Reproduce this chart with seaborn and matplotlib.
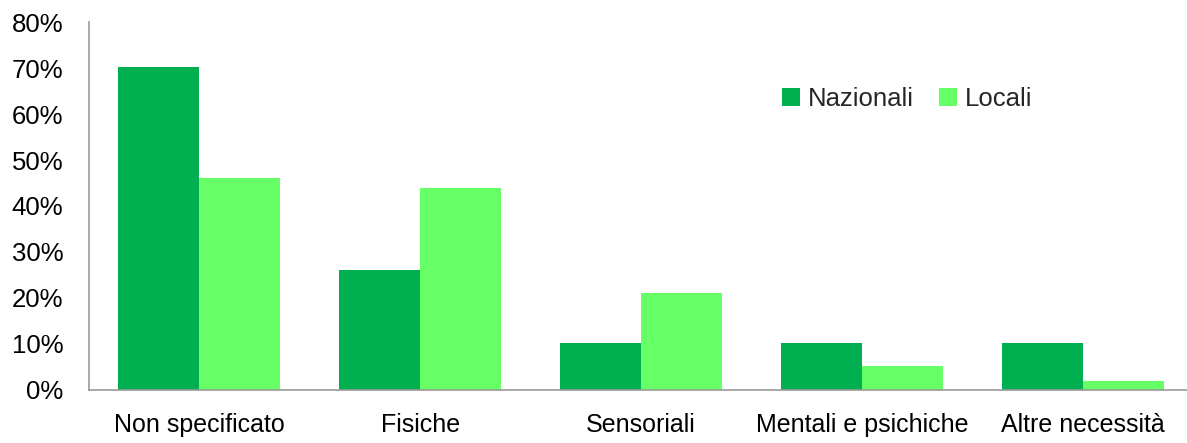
import matplotlib
matplotlib.use("Agg")
import matplotlib.pyplot as plt
from matplotlib.ticker import FixedLocator, PercentFormatter
from matplotlib.patches import Patch
import seaborn as sns
import pandas as pd

categorie = ["Non specificato", "Fisiche", "Sensoriali", "Mentali e psichiche", "Altre necessità"]
nazionali = [70.2, 26.1, 10.1, 10.1, 10.1]
locali = [46.0, 43.9, 21.1, 5.1, 1.9]
serie = ["Nazionali", "Locali"]
colori = ["#00B050", "#66FF66"]

df = pd.DataFrame({
    "categoria": categorie * 2,
    "valore": nazionali + locali,
    "tipo": [serie[0]] * len(categorie) + [serie[1]] * len(categorie),
})

sns.set_style("white")
plt.rcParams["font.family"] = ["Liberation Sans", "DejaVu Sans"]

fig = plt.figure(figsize=(11.87, 4.43), dpi=100)
ax = fig.add_axes([0.075, 0.1203, 0.930, 0.8294])

sns.barplot(data=df, x="categoria", y="valore", hue="tipo", order=categorie,
            hue_order=serie, palette=colori, saturation=1, width=0.734,
            linewidth=0, ax=ax, legend=False)

grigio = "#999999"
ax.set_xlim(-0.5, len(categorie) - 0.5)
ax.set_ylim(0, 80)
ax.set_yticks(range(0, 81, 10))
ax.yaxis.set_major_formatter(PercentFormatter(decimals=0))
ax.xaxis.set_minor_locator(FixedLocator([i - 0.5 for i in range(len(categorie) + 1)]))
ax.tick_params(axis="x", which="major", length=0, pad=17, labelsize=18, colors="black")
ax.tick_params(axis="x", which="minor", length=6.5, width=1.2, color=grigio, direction="out")
ax.tick_params(axis="y", which="major", length=6.5, width=1.2, color=grigio, direction="out",
               labelsize=18.5, labelcolor="black", pad=12)
ax.set_xlabel("")
ax.set_ylabel("")
for lato in ["top", "right"]:
    ax.spines[lato].set_visible(False)
for lato in ["left", "bottom"]:
    ax.spines[lato].set_color(grigio)
    ax.spines[lato].set_linewidth(1.2)

maniglie = [Patch(facecolor=c, edgecolor="none", label=s) for c, s in zip(colori, serie)]
ax.legend(handles=maniglie, loc="center", bbox_to_anchor=(0.741, 0.79), ncol=2,
          frameon=False, fontsize=18.5, handlelength=0.7, handleheight=0.7,
          handletextpad=0.3, columnspacing=1.0)

fig.savefig("out.png", dpi=100)
